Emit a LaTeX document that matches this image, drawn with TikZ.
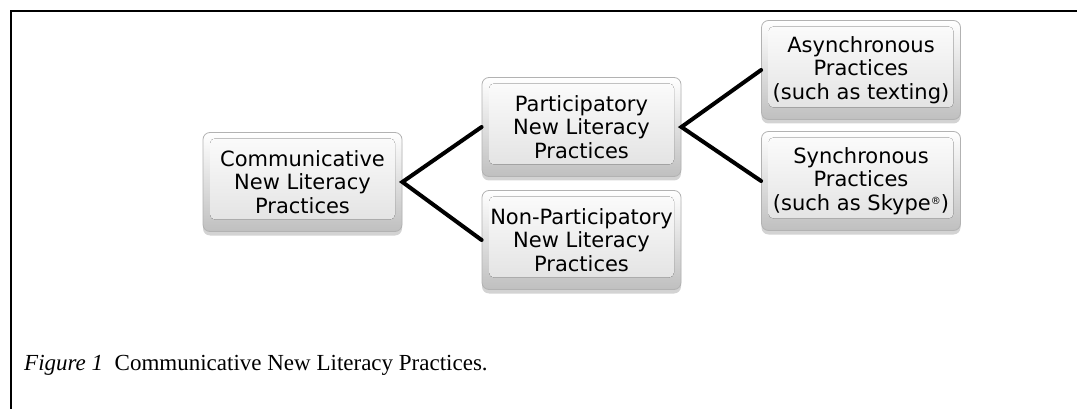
\documentclass[tikz,border=0pt]{standalone}
\usepackage{fontspec}
\setmainfont{Liberation Serif}
\newfontfamily\boxfont{DejaVu Sans}
\usetikzlibrary{shadows}
\tikzset{
  practice/.style={rounded corners=7pt, draw=gray!60, line width=0.8pt,
    minimum width=199pt, minimum height=99pt, inner sep=0pt, align=center,
    font=\boxfont\fontsize{21}{23.5}\selectfont,
    top color=white, bottom color=gray!50,
    drop shadow={shadow xshift=0pt, shadow yshift=-4pt, opacity=0.35},
    path picture={
      \fill[rounded corners=5pt, top color=gray!2, bottom color=gray!24]
        ([shift={(7pt,-6pt)}]path picture bounding box.north west) rectangle
        ([shift={(-7pt,12pt)}]path picture bounding box.south east);
    }},
  branch/.style={line width=4pt, line cap=round, line join=miter}
}
\begin{document}
\begin{tikzpicture}[x=1pt,y=-1pt]
  \useasboundingbox (0,0) rectangle (1077,409);
  % frame
  \draw[line width=2.5pt] (11,409) -- (11,11) -- (1077,11);
  % boxes
  \node[practice] (comm) at (302.5,182) {Communicative\\New Literacy\\Practices};
  \node[practice] (part) at (581.5,127) {Participatory\\New Literacy\\Practices};
  \node[practice] (non) at (581.5,240) {Non-Participatory\\New Literacy\\Practices};
  \node[practice] (async) at (861,70) {Asynchronous\\Practices\\(such as texting)};
  \node[practice] (sync) at (861,181) {Synchronous\\Practices\\(such as Skype{\fontsize{10}{10}\selectfont\raisebox{6pt}{®}})};
  % branches
  \draw[branch] (part.west) -- (comm.east) -- (non.west);
  \draw[branch] (async.west) -- (part.east) -- (sync.west);
  % caption
  \node[anchor=base west, inner sep=0pt, font=\fontsize{23}{27}\selectfont] (caption) at (24,370)
    {\textit{Figure 1}\ \ Communicative New Literacy Practices.};
\end{tikzpicture}
\end{document}
